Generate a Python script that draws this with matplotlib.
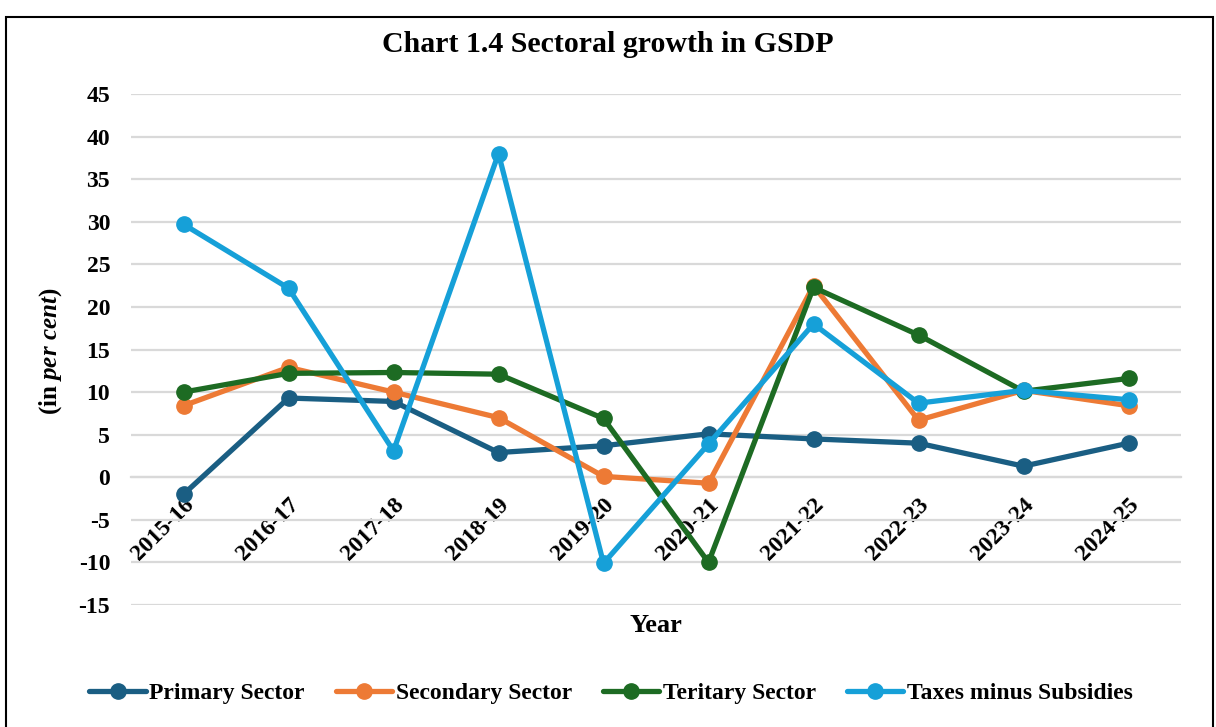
import matplotlib
matplotlib.use("Agg")
import matplotlib.pyplot as plt
from matplotlib.patches import Rectangle
import numpy as np

years = ["2015-16", "2016-17", "2017-18", "2018-19", "2019-20",
         "2020-21", "2021-22", "2022-23", "2023-24", "2024-25"]
primary = [-2.0, 9.3, 8.9, 2.9, 3.7, 5.1, 4.5, 4.0, 1.3, 4.0]
secondary = [8.4, 12.9, 10.0, 7.0, 0.1, -0.7, 22.5, 6.7, 10.2, 8.4]
tertiary = [10.0, 12.2, 12.3, 12.1, 6.9, -10.0, 22.3, 16.7, 10.1, 11.6]
taxes = [29.7, 22.2, 3.1, 38.0, -10.1, 3.9, 18.0, 8.7, 10.2, 9.1]

series_names = ["Primary Sector", "Secondary Sector", "Teritary Sector", "Taxes minus Subsidies"]
colors = ["#1a5e83", "#ed7a35", "#1d6b23", "#16a0d8"]
yticks = list(range(-15, 50, 5))

plt.rcParams['font.family'] = ['Liberation Serif', 'DejaVu Serif']
plt.rcParams['mathtext.fontset'] = 'custom'
plt.rcParams['mathtext.it'] = 'Liberation Serif:bold:italic'
plt.rcParams['mathtext.rm'] = 'Liberation Serif:bold'

fig = plt.figure(figsize=(12.16, 7.27), dpi=100)
ax = fig.add_axes([131/1216, 122/727, 1050/1216, 511/727])

x = np.arange(len(years))
for vals, name, c in zip([primary, secondary, tertiary, taxes], series_names, colors):
    ax.plot(x, vals, color=c, lw=3.8, marker='o', markersize=11, label=name,
            solid_joinstyle='round', solid_capstyle='round', zorder=3)

ax.set_xlim(-0.5, len(years) - 0.5)
ax.set_ylim(-15, 45)
ax.set_yticks(yticks)
ax.set_yticklabels([str(v) for v in yticks], fontsize=17, fontweight='bold')
ax.yaxis.grid(True, color='#d9d9d9', lw=1.6, zorder=0)
ax.set_axisbelow(True)
for s in ['top', 'right', 'left']:
    ax.spines[s].set_visible(False)
ax.spines['bottom'].set_position(('data', 0))
ax.spines['bottom'].set_color('#d9d9d9')
ax.spines['bottom'].set_linewidth(1.6)
ax.tick_params(axis='both', length=0)
ax.tick_params(axis='y', pad=15)
ax.set_xticks(x)
ax.set_xticklabels(years, rotation=45, ha='right', rotation_mode='anchor',
                   fontsize=17, fontweight='bold')
ax.tick_params(axis='x', pad=12)

fig.text(656/1216, 1 - 626/727, "Year", ha='center', va='center',
         fontsize=19, fontweight='bold')
fig.text(51/1216, 1 - 351/727, r"(in $per\ cent$)", rotation=90, ha='center', va='center',
         fontsize=18, fontweight='bold')
fig.text(608/1216, 1 - 45/727, "Chart 1.4 Sectoral growth in GSDP", ha='center', va='center',
         fontsize=21.5, fontweight='bold')

leg = fig.legend(loc='center', bbox_to_anchor=(611/1216, 1 - 693/727), ncol=4, frameon=False,
                 prop={'size': 17, 'weight': 'bold'}, handlelength=2.4, columnspacing=1.3,
                 handletextpad=0.15)

fig.patches.append(Rectangle((6/1216, -0.02), 1207/1216, 0.02 + 710/727, transform=fig.transFigure,
                             fill=False, edgecolor='black', lw=1.5))

fig.savefig("out.png", dpi=100)
